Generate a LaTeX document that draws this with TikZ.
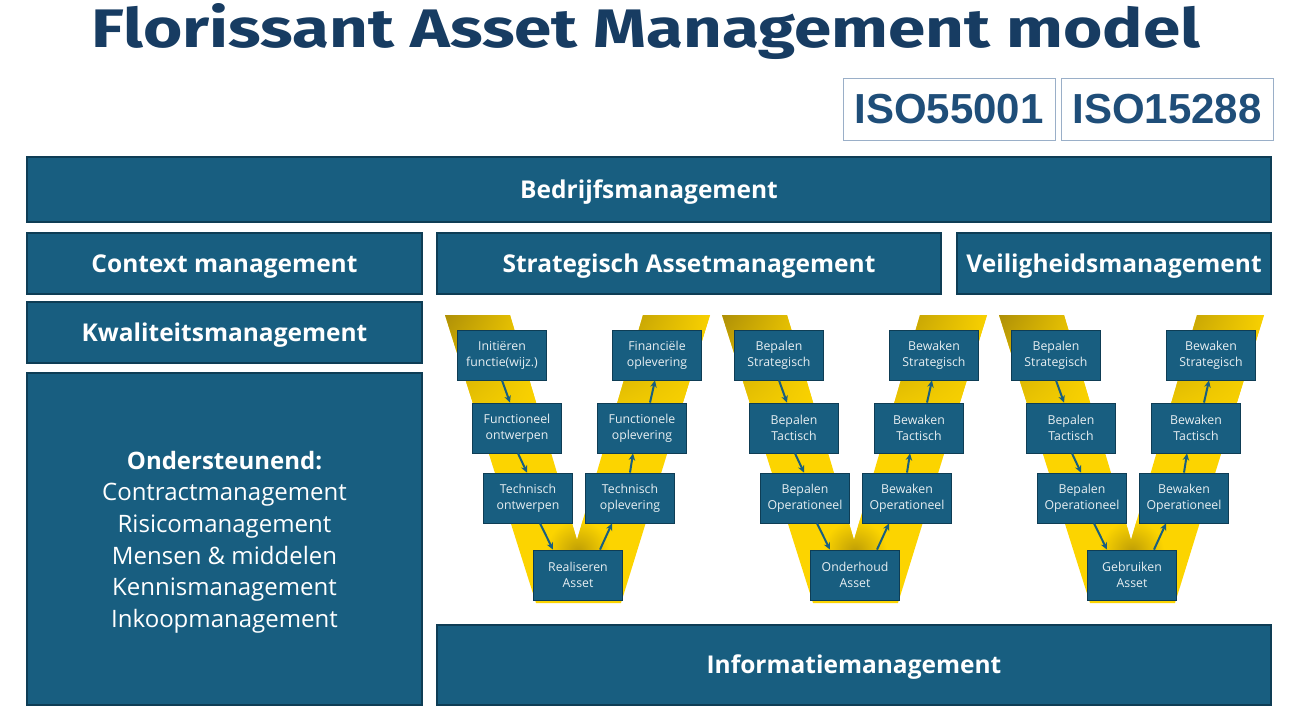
\documentclass[tikz,border=0pt]{standalone}
\usepackage{fontspec}
\setmainfont{Open Sans}
\newfontfamily\titlefont{Fira Sans}
\newfontfamily\isofont{Liberation Sans}
\usetikzlibrary{arrows.meta,calc,shadings}
\definecolor{boxblue}{HTML}{185E80}
\definecolor{boxedge}{HTML}{0E3D55}
\definecolor{titleblue}{HTML}{173C62}
\definecolor{isoblue}{HTML}{1F4E79}
\definecolor{isoedge}{HTML}{9AAFC8}
\definecolor{vyellow}{HTML}{FCD400}
\definecolor{vgold}{HTML}{A88A08}
\newcommand\Vmodel[9]{%
  \begin{scope}[xshift=#1pt]
    \begin{scope}
      \clip (445,315) -- (510,315) -- (577,540) -- (643,315) -- (710,315) -- (621,603) -- (536,603) -- cycle;
      \fill[vyellow] (440,310) rectangle (715,610);
      \shade[upper left=vgold, upper right=vyellow, lower left=vyellow, lower right=vyellow] (440,312) rectangle (545,445);
      \shade[upper left=vgold!85!vyellow, upper right=vyellow, lower left=vyellow, lower right=vyellow] (615,312) rectangle (715,430);
      \shade[inner color=vgold!75!vyellow, outer color=vyellow] (578,552) circle (32);
    \end{scope}
    \node[vbox] (La#2) at (502,355) {#3};
    \node[vbox] (Lb#2) at (517,428) {#4};
    \node[vbox] (Lc#2) at (528,498) {#5};
    \node[vbox] (Bo#2) at (578,575) {#6};
    \node[vbox] (Rc#2) at (630,498) {#7};
    \node[vbox] (Rb#2) at (642,428) {#8};
    \node[vbox] (Ra#2) at (657,355) {#9};
  \end{scope}
  \draw[varr] (La#2.south) -- ($(Lb#2.north)+(-7,0)$);
  \draw[varr] ($(Lb#2.south)+(1,0)$) -- ($(Lc#2.north)+(-1,0)$);
  \draw[varr] ($(Lc#2.south)+(12,0)$) -- ($(Bo#2.north)+(-25,0)$);
  \draw[varr] ($(Bo#2.north)+(22,0)$) -- ($(Rc#2.south)+(-18,0)$);
  \draw[varr] (Rc#2.north) -- ($(Rb#2.south)+(-9,0)$);
  \draw[varr] ($(Rb#2.north)+(8,0)$) -- ($(Ra#2.south)+(-2,0)$);
}
\begin{document}
\begin{tikzpicture}[x=1pt,y=-1pt,
  bigbox/.style={draw=boxedge, line width=1.2pt, fill=boxblue, text=white, font=\bfseries\fontsize{24.5}{28}\selectfont, inner sep=0pt, text height=17.5pt, text depth=0pt},
  vbox/.style={draw=boxedge, line width=0.8pt, fill=boxblue, text=white!90!boxblue, minimum width=89pt, minimum height=50pt, inner sep=1pt, align=center, font=\fontsize{12.3}{16}\selectfont},
  varr/.style={-{Stealth[length=7pt,width=6.5pt]}, line width=2pt, draw=boxblue},
  isobox/.style={draw=isoedge, line width=1pt, fill=white, text=isoblue, minimum width=212pt, minimum height=62pt, inner sep=0pt, font=\isofont\bfseries\fontsize{42}{46}\selectfont},
  plaintext/.style={text=white, inner sep=0pt, align=center, font=\fontsize{24}{31.6}\selectfont},
]
\useasboundingbox[fill=white] (0,0) rectangle (1290,723);
\node[anchor=base, text=titleblue, inner sep=0pt] (title) at (646,47) {\resizebox{1108pt}{44pt}{\titlefont\bfseries Florissant Asset Management model}};
\node[isobox] (iso1) at (949,109) {ISO55001};
\node[isobox] (iso2) at (1167,109) {ISO15288};
\node[bigbox, minimum width=1244pt, minimum height=65pt] (bedrijf) at (649,189.5) {Bedrijfsmanagement};
\node[bigbox, minimum width=395pt, minimum height=61pt] (context) at (224.5,263.5) {Context management};
\node[bigbox, minimum width=395pt, minimum height=61pt] (kwal) at (224.5,332.5) {Kwaliteitsmanagement};
\node[bigbox, minimum width=395pt, minimum height=332pt] (onder) at (224.5,539) {};
\node[plaintext] (ondertext) at (224.5,542) {{\bfseries Ondersteunend:}\\Contractmanagement\\Risicomanagement\\Mensen \& middelen\\Kennismanagement\\Inkoopmanagement};
\node[bigbox, minimum width=504pt, minimum height=61pt] (strat) at (689,263.5) {Strategisch Assetmanagement};
\node[bigbox, minimum width=314pt, minimum height=61pt] (veilig) at (1114,263.5) {Veiligheidsmanagement};
\node[bigbox, minimum width=834pt, minimum height=80pt] (info) at (854,665) {Informatiemanagement};
\Vmodel{0}{a}{Initiëren\\functie(wijz.)}{Functioneel\\ontwerpen}{Technisch\\ontwerpen}{Realiseren\\Asset}{Technisch\\oplevering}{Functionele\\oplevering}{Financiële\\oplevering}
\Vmodel{277}{b}{Bepalen\\Strategisch}{Bepalen\\Tactisch}{Bepalen\\Operationeel}{Onderhoud\\Asset}{Bewaken\\Operationeel}{Bewaken\\Tactisch}{Bewaken\\Strategisch}
\Vmodel{554}{c}{Bepalen\\Strategisch}{Bepalen\\Tactisch}{Bepalen\\Operationeel}{Gebruiken\\Asset}{Bewaken\\Operationeel}{Bewaken\\Tactisch}{Bewaken\\Strategisch}
\end{tikzpicture}
\end{document}
